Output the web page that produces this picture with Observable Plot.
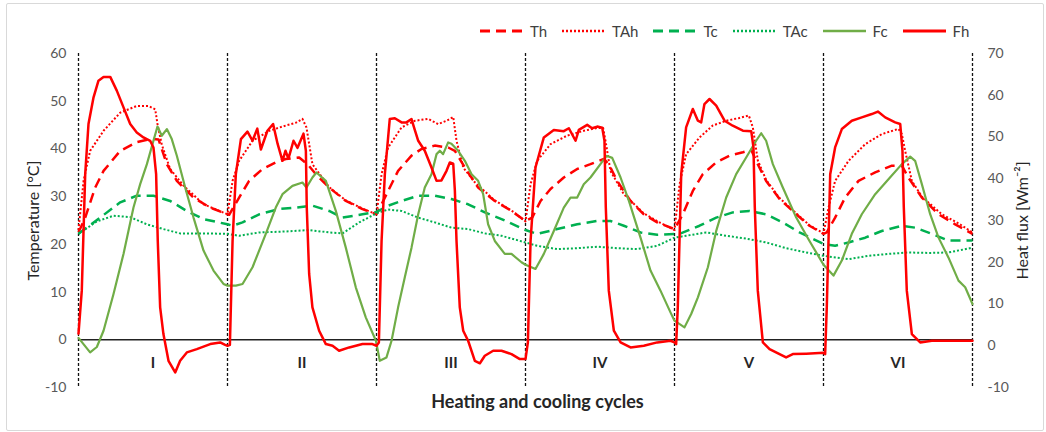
<!DOCTYPE html>
<html>
<head>
<meta charset="utf-8">
<script src="https://cdn.jsdelivr.net/npm/d3@7"></script>
<script src="https://cdn.jsdelivr.net/npm/@observablehq/plot@0.6"></script>
<style>
  html, body { margin: 0; padding: 0; background: #fff; }
  #wrap { position: relative; width: 1046px; height: 432px; overflow: hidden; font-family: Lato, "Open Sans", sans-serif; }
  #border { position: absolute; left: 6px; top: 3px; width: 1036px; height: 426px; border: 1px solid #d9d9d9; border-radius: 2px; pointer-events: none; }
  #legend { position: absolute; top: 22px; left: 480px; display: flex; align-items: center; font-size: 15px; color: #404040; }
  #legend .item { display: flex; align-items: center; margin-right: 15px; }
  #legend svg { margin-right: 7px; }
</style>
</head>
<body>
<div id="wrap"><div id="border"></div><div id="legend"></div></div>
<script>
// ---- data: [time in cycles, value] ----
const cycleNames = ["I", "II", "III", "IV", "V", "VI"];
const tempTicks = [-10, 0, 10, 20, 30, 40, 50, 60];
const fluxTicks = [-10, 0, 10, 20, 30, 40, 50, 60, 70];

// Temperatures [°C] (left axis)
const Th = [[0,22.5],[0.045,25.6],[0.112,31.9],[0.168,35.4],[0.280,39.6],[0.391,41.4],[0.481,42.1],[0.537,42.0],[0.593,36.8],[0.660,33.3],[0.772,29.8],[0.884,27.7],[1.0,26.3],
  [1.011,26.2],[1.078,29.8],[1.145,33.3],[1.235,35.8],[1.324,37.2],[1.391,37.9],[1.481,38.2],[1.537,36.8],[1.593,34.7],[1.682,31.9],[1.794,29.1],[1.906,27.4],[2.0,26.3],
  [2.034,28.4],[2.078,31.2],[2.145,35.4],[2.235,38.6],[2.302,40.0],[2.391,40.7],[2.481,40.3],[2.526,39.6],[2.593,36.1],[2.682,31.9],[2.794,29.1],[2.906,27.0],[3.0,24.9],
  [3.045,25.6],[3.101,29.1],[3.168,31.6],[3.257,34.0],[3.347,35.8],[3.436,36.8],[3.526,37.9],[3.559,36.8],[3.615,33.3],[3.705,29.1],[3.794,26.3],[3.884,24.6],[4.0,23.2],
  [4.056,26.3],[4.123,31.2],[4.190,34.7],[4.280,37.2],[4.369,38.6],[4.459,39.3],[4.515,39.8],[4.559,36.8],[4.615,33.3],[4.705,29.5],[4.817,26.3],[4.906,23.9],[5.0,22.2],
  [5.022,22.5],[5.078,25.6],[5.145,29.8],[5.235,33.3],[5.347,35.1],[5.459,36.5],[5.526,36.5],[5.570,34.0],[5.660,29.8],[5.772,26.3],[5.884,24.2],[6.0,22.2]];

const TAh = [[0,23.0],[0.034,33.3],[0.078,39.6],[0.168,43.8],[0.280,47.6],[0.391,49.0],[0.470,49.0],[0.515,48.3],[0.530,45.2],[0.559,40.9],[0.615,35.8],[0.705,32.3],[0.839,28.4],[1.0,26.3],
  [1.034,33.3],[1.078,37.5],[1.168,41.7],[1.280,43.8],[1.391,44.9],[1.459,45.5],[1.503,46.3],[1.530,44.5],[1.570,36.8],[1.682,32.0],[1.794,29.2],[1.906,27.5],[2.0,26.3],
  [2.034,34.7],[2.078,40.3],[2.168,44.5],[2.257,45.9],[2.347,46.3],[2.414,45.2],[2.470,45.9],[2.515,46.7],[2.537,41.7],[2.582,36.1],[2.660,33.0],[2.794,29.2],[2.906,27.1],[3.0,24.8],
  [3.034,32.6],[3.078,37.5],[3.168,41.0],[3.280,42.8],[3.391,43.8],[3.481,44.4],[3.521,44.4],[3.537,41.7],[3.570,35.4],[3.660,30.5],[3.794,26.5],[3.906,24.5],[4.0,23.0],
  [4.034,32.6],[4.078,38.9],[4.168,42.4],[4.257,44.9],[4.347,45.9],[4.436,46.5],[4.499,47.0],[4.526,44.5],[4.559,37.6],[4.615,33.5],[4.705,29.7],[4.817,26.5],[4.906,24.0],[5.0,22.3],
  [5.034,27.7],[5.078,33.3],[5.168,37.5],[5.280,41.0],[5.391,43.1],[5.503,44.2],[5.526,43.1],[5.548,39.6],[5.593,33.3],[5.660,30.0],[5.794,26.3],[5.906,24.4],[6.0,22.5]];

const Tc = [[0,22.2],[0.145,25.6],[0.280,28.8],[0.391,30.2],[0.503,30.2],[0.615,29.1],[0.727,27.0],[0.839,25.3],[1.0,24.2],
  [1.034,23.9],[1.101,24.6],[1.213,26.3],[1.347,27.4],[1.459,27.7],[1.570,28.1],[1.682,27.0],[1.772,25.6],[1.906,26.3],[2.0,26.8],
  [2.078,28.1],[2.168,29.1],[2.280,30.2],[2.391,30.2],[2.503,29.5],[2.615,28.4],[2.727,26.7],[2.839,25.3],[3.0,23.0],
  [3.078,22.2],[3.213,23.2],[3.347,24.2],[3.481,24.9],[3.570,24.9],[3.660,23.9],[3.772,22.5],[3.884,22.0],[4.0,22.2],
  [4.034,22.2],[4.168,23.9],[4.280,25.6],[4.391,26.7],[4.503,27.0],[4.615,26.3],[4.727,24.6],[4.839,22.5],[5.0,20.1],
  [5.078,19.7],[5.168,20.4],[5.280,21.4],[5.391,22.8],[5.526,23.9],[5.615,23.5],[5.727,22.2],[5.839,20.8],[6.0,20.8]];

const TAc = [[0,22.2],[0.123,24.8],[0.235,26.0],[0.347,25.7],[0.459,24.2],[0.570,23.2],[0.682,22.3],[0.839,22.3],[1.0,22.2],
  [1.078,21.8],[1.213,22.5],[1.391,22.7],[1.548,23.0],[1.682,22.5],[1.772,22.3],[1.884,24.6],[2.0,26.5],
  [2.078,27.3],[2.168,27.0],[2.280,25.6],[2.391,24.6],[2.503,23.5],[2.615,23.2],[2.727,22.3],[2.839,21.8],[3.0,20.4],
  [3.078,19.7],[3.213,19.0],[3.347,19.2],[3.481,19.5],[3.615,19.2],[3.749,19.0],[3.884,19.7],[4.0,21.4],
  [4.078,21.8],[4.213,22.5],[4.347,21.8],[4.481,21.2],[4.615,20.4],[4.749,19.2],[4.884,18.3],[5.0,17.6],
  [5.168,16.9],[5.302,17.6],[5.436,18.0],[5.570,18.3],[5.705,18.2],[5.839,18.3],[6.0,19.3]];

// Heat fluxes [W m-2] (right axis)
const Fc = [[0,1.9],[0.078,-1.6],[0.123,-0.3],[0.168,3.6],[0.235,12.4],[0.302,22.0],[0.369,33.1],[0.414,38.7],[0.459,43.5],[0.503,49.1],[0.530,52.5],[0.559,50.3],[0.593,51.9],[0.626,49.5],[0.660,45.5],[0.716,37.9],[0.772,30.7],[0.839,22.8],[0.906,18.0],[0.973,14.8],[1.0,14.4],
  [1.056,14.4],[1.101,14.8],[1.168,18.8],[1.257,26.8],[1.324,33.1],[1.369,36.3],[1.436,38.3],[1.503,39.1],[1.530,37.9],[1.570,40.3],[1.597,41.5],[1.660,39.5],[1.727,32.3],[1.794,23.5],[1.861,14.0],[1.928,6.8],[1.996,1.2],
  [2.022,-3.6],[2.067,-2.8],[2.101,1.2],[2.145,9.2],[2.190,16.4],[2.235,23.5],[2.280,31.5],[2.324,37.9],[2.369,41.1],[2.403,45.9],[2.425,46.7],[2.447,45.9],[2.481,48.7],[2.503,48.4],[2.548,46.7],[2.593,44.3],[2.638,41.1],[2.682,39.5],[2.716,36.3],[2.749,29.1],[2.794,25.1],[2.861,22.0],[2.906,22.0],[2.973,20.0],[3.0,19.4],
  [3.067,18.4],[3.123,22.0],[3.190,27.5],[3.257,33.1],[3.302,35.5],[3.347,35.5],[3.391,38.7],[3.436,40.3],[3.503,43.5],[3.544,45.5],[3.582,45.0],[3.638,40.3],[3.694,34.7],[3.772,25.9],[3.839,18.0],[3.906,13.2],[3.973,8.0],[4.0,6.0],
  [4.067,4.4],[4.112,7.6],[4.157,11.6],[4.224,18.8],[4.280,27.5],[4.347,35.5],[4.414,41.1],[4.481,45.1],[4.548,49.1],[4.582,50.9],[4.615,49.1],[4.660,43.5],[4.727,37.9],[4.817,30.7],[4.906,25.1],[5.0,19.4],
  [5.067,16.8],[5.123,20.4],[5.190,26.8],[5.257,31.5],[5.347,36.3],[5.436,39.9],[5.526,43.5],[5.582,45.3],[5.615,44.3],[5.660,38.7],[5.716,31.5],[5.772,25.9],[5.839,21.1],[5.906,15.6],[5.951,14.0],[6.0,10.0]];

const Fh = [[0,2.9],[0.022,13.2],[0.045,41.1],[0.067,53.1],[0.101,59.5],[0.134,63.5],[0.168,64.4],[0.213,64.4],[0.257,61.1],[0.302,57.1],[0.347,53.1],[0.391,51.1],[0.436,49.9],[0.481,49.1],[0.503,47.5],[0.521,41.1],[0.532,25.1],[0.548,9.2],[0.570,2.8],[0.604,-3.6],[0.649,-6.4],[0.682,-3.6],[0.727,-1.6],[0.794,-0.8],[0.884,0.4],[0.951,0.8],[0.984,0.2],[1.0,0.0],
  [1.016,0.2],[1.034,25.1],[1.056,41.1],[1.090,49.5],[1.134,51.3],[1.168,49.1],[1.200,52.0],[1.224,47.0],[1.268,51.5],[1.306,53.1],[1.336,48.4],[1.369,44.3],[1.389,46.7],[1.409,44.8],[1.443,49.1],[1.470,47.4],[1.510,50.8],[1.526,46.7],[1.532,33.1],[1.548,17.2],[1.570,9.2],[1.615,3.6],[1.660,0.4],[1.705,0.0],[1.749,-1.2],[1.817,-0.4],[1.906,0.4],[1.973,0.4],[2.0,0.0],
  [2.016,0.8],[2.034,25.1],[2.056,41.1],[2.089,54.3],[2.123,54.5],[2.168,53.5],[2.201,53.5],[2.235,54.3],[2.257,51.7],[2.280,49.1],[2.324,46.7],[2.369,42.7],[2.403,39.5],[2.436,39.6],[2.470,41.9],[2.492,43.9],[2.515,43.6],[2.526,37.1],[2.537,25.1],[2.559,9.2],[2.582,3.6],[2.615,1.2],[2.660,-3.6],[2.694,-4.2],[2.727,-2.4],[2.783,-1.2],[2.839,-1.2],[2.906,-2.0],[2.962,-3.2],[3.0,-3.2],
  [3.016,0.8],[3.034,25.1],[3.067,42.7],[3.123,49.9],[3.190,51.7],[3.257,51.4],[3.291,52.1],[3.336,49.1],[3.358,51.7],[3.414,52.9],[3.447,52.1],[3.481,52.5],[3.515,52.2],[3.530,49.1],[3.539,33.1],[3.559,13.2],[3.593,3.6],[3.638,0.8],[3.705,-0.4],[3.794,0.0],[3.884,0.8],[3.973,1.2],[4.0,0.8],
  [4.011,0.4],[4.022,9.2],[4.045,41.1],[4.078,52.3],[4.123,56.7],[4.157,53.9],[4.179,53.5],[4.201,57.9],[4.235,59.1],[4.280,57.5],[4.336,53.9],[4.391,52.7],[4.459,51.5],[4.515,51.4],[4.530,47.5],[4.539,33.1],[4.559,13.2],[4.593,0.8],[4.638,-0.8],[4.705,-2.0],[4.749,-2.8],[4.794,-2.0],[4.884,-1.9],[5.0,-1.7],
  [5.011,-2.0],[5.022,9.2],[5.045,41.1],[5.078,47.5],[5.123,51.9],[5.190,53.9],[5.257,54.7],[5.324,55.5],[5.365,56.1],[5.414,54.7],[5.481,53.5],[5.515,53.1],[5.530,46.7],[5.539,33.1],[5.559,13.2],[5.593,2.8],[5.649,0.8],[5.727,1.2],[5.839,1.2],[6.0,1.2]];

const seriesNames = ["Th", "TAh", "Tc", "TAc", "Fc", "Fh"];
const seriesColors = ["#FF0000", "#FF0000", "#00B050", "#00B050", "#70AD47", "#FF0000"];
const seriesDash = ["10,6", "2,2", "10,6", "2,2", null, null];
const seriesWidth = [2.5, 2, 2.5, 2, 2.2, 2.5];

// ---- dual axis mapping: flux domain [-10,70] onto temperature domain [-10,60] ----
const tDom = [-10, 60], fDom = [-10, 70];
const f2t = f => tDom[0] + (f - fDom[0]) * (tDom[1] - tDom[0]) / (fDom[1] - fDom[0]);
const t2f = t => fDom[0] + (t - tDom[0]) * (fDom[1] - fDom[0]) / (tDom[1] - tDom[0]);

const seriesData = [Th, TAh, Tc, TAc, Fc, Fh];
const isFlux = [false, false, false, false, true, true];

const lineMarks = seriesData.map((data, i) => Plot.line(data, {
  x: d => d[0],
  y: d => isFlux[i] ? f2t(d[1]) : d[1],
  stroke: seriesColors[i],
  strokeWidth: seriesWidth[i],
  strokeDasharray: seriesDash[i] || undefined,
  strokeLinecap: seriesDash[i] ? "butt" : "round",
  strokeLinejoin: "round",
  curve: "linear"
}));

const chart = Plot.plot({
  width: 1046,
  height: 432,
  marginLeft: 78,
  marginRight: 74,
  marginTop: 53,
  marginBottom: 45,
  style: { fontFamily: "Lato, 'Open Sans', sans-serif", fontSize: "14px", color: "#595959", background: "transparent" },
  x: { domain: [0, 6], axis: null },
  y: { domain: tDom, axis: null },
  marks: [
    Plot.axisY({ ticks: tempTicks, tickSize: 0, tickPadding: 12, tickFormat: d => String(d), label: null, fontSize: 14 }),
    Plot.axisY({ anchor: "right", ticks: fluxTicks.map(f2t), tickSize: 0, tickPadding: 15, tickFormat: t => String(Math.round(t2f(t))), label: null, fontSize: 14 }),
    Plot.text(["Temperature [°C]"], { frameAnchor: "left", rotate: -90, dx: -45, textAnchor: "middle", fontSize: 16, fill: "#262626" }),
    Plot.text(["Heat flux [Wm⁻²]"], { frameAnchor: "right", rotate: -90, dx: 50, textAnchor: "middle", fontSize: 16, fill: "#262626" }),
    Plot.text(["Heating and cooling cycles"], { frameAnchor: "bottom", dy: 20, dx: 12, fontWeight: "bold", fontSize: 18, fill: "#262626" }),
    Plot.ruleY([0], { stroke: "#222", strokeWidth: 1.5 }),
    Plot.ruleX(d3.range(cycleNames.length + 1), { stroke: "#111", strokeWidth: 1.3, strokeDasharray: "3,2" }),
    Plot.text(cycleNames, { x: (d, i) => i + 0.5, y: -4.8, text: d => d, fontWeight: "bold", fontSize: 15, fill: "#262626" }),
    ...lineMarks
  ]
});

const wrap = document.getElementById("wrap");
chart.style.position = "absolute";
chart.style.left = "0px";
chart.style.top = "0px";
wrap.insertBefore(chart, wrap.firstChild);

// legend
const legend = document.getElementById("legend");
seriesNames.forEach((name, i) => {
  const item = document.createElement("div");
  item.className = "item";
  const svg = d3.create("svg").attr("width", 43).attr("height", 10);
  svg.append("line").attr("x1", 0).attr("x2", 43).attr("y1", 5).attr("y2", 5)
    .attr("stroke", seriesColors[i]).attr("stroke-width", seriesWidth[i] + 0.5)
    .attr("stroke-linecap", "butt")
    .attr("stroke-dasharray", seriesDash[i] ? (seriesDash[i] === "2,2" ? "2,2" : "10,6") : null);
  item.appendChild(svg.node());
  const lab = document.createElement("span");
  lab.textContent = name;
  item.appendChild(lab);
  legend.appendChild(item);
});
</script>
</body>
</html>
